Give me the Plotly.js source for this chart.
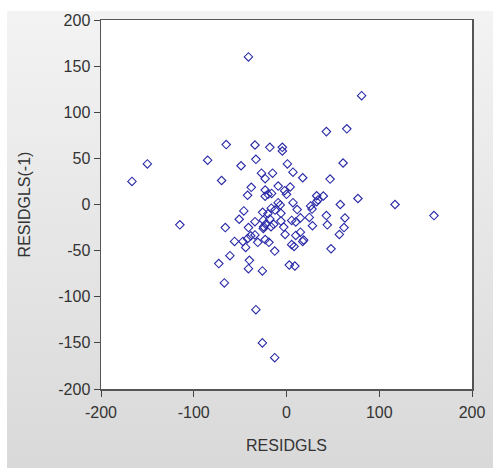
<!DOCTYPE html>
<html>
<head>
<meta charset="utf-8">
<script src="https://cdn.plot.ly/plotly-3.0.1.min.js"></script>
<style>
html,body{margin:0;padding:0;background:#fff;}
#bg{position:absolute;left:7px;top:11px;width:486px;height:457px;background:linear-gradient(#f3f3f3,#d9d9d9);}
#chart{position:absolute;left:0;top:0;width:494px;height:469px;}
</style>
</head>
<body>
<div id="bg"></div>
<div id="chart"></div>
<script>
// RESIDGLS (x) vs RESIDGLS(-1) (y)
const residgls = [
 -41, 81, 43, 65, -65, -34, -18, -4.5, -4.5, -150, -85, -49, -33, 1, 61, -166.6, -70, -27, -15, -23,
 7, 17.5, 47, -38, -9, 4, -23, -20, -16, -23, -42, -2, 0, 32.5, 39.7, 34, 32.5, 77, 117, 159,
 58, 7, 11.5, 26, 27.5, -9, -6.7, -46, -25.7, -16.4, -20, -6, -12.4, -115, -66, -51, -41, -34, -25, -22.4,
 -16.7, -13.8, -24.6, -6, -3, 24.6, 15, 5.6, 10, 43, 44, 63, 62, 57, 28, -1.5, 10, 15, 18.5, 17.5,
 5.6, 8.2, 48, 3, 9, -56, -47, -42, -38.6, -34, -44, -31, -23, -19, -12.7, -61, -73, -40, -41, -26,
 -67, -33, -26, -12.7, -18, -25
];
const residglsLag = [
 160, 118, 79, 82, 65, 64.5, 62, 62, 58, 44, 48, 42, 49, 44, 45, 25, 26, 34, 34, 28,
 35, 29, 27.6, 18.6, 20, 19, 15.7, 11, 12, 9, 10, 15, 11, 9.5, 9.2, 5, 3, 6.5, 0, -12,
 0, 2, -5.5, -1.6, -5, 2, -0.5, -7, -8.5, -4, -10, -9.6, -6, -22, -25, -16, -25, -18.6, -17, -21.5,
 -24, -21.5, -24, -18, -24.5, -14, -14.5, -17.3, -19, -12, -22, -14.6, -25, -32.5, -23, -32.5, -33.5, -30, -38.5, -40,
 -43.5, -45.5, -48, -65.6, -66.7, -40, -40, -37, -34, -33, -46.5, -41, -38, -41, -50.5, -55.5, -64, -60.5, -69.6, -72,
 -85, -114, -150, -166, -15.7, -26
];
const xTicks = [-200, -100, 0, 100, 200];
const yTicks = [-200, -150, -100, -50, 0, 50, 100, 150, 200];

const font = {family: '"Liberation Sans", Arial, sans-serif', size: 16, color: '#333333'};

Plotly.newPlot('chart', [{
  type: 'scatter', mode: 'markers',
  x: residgls, y: residglsLag,
  marker: {symbol: 'diamond-open', size: 6.5, color: '#2a2aa8', line: {width: 1.1, color: '#2a2aa8'}},
  hoverinfo: 'none'
}], {
  width: 494, height: 469,
  margin: {l: 101, r: 22, t: 20, b: 80},
  paper_bgcolor: 'rgba(0,0,0,0)',
  plot_bgcolor: '#ffffff',
  showlegend: false,
  font: font,
  xaxis: {
    range: [-200, 200], tickvals: xTicks, ticktext: xTicks.map(String),
    ticks: 'outside', ticklen: 6, tickcolor: '#444', tickwidth: 1,
    showline: true, linecolor: '#555', linewidth: 1.5, mirror: true,
    showgrid: false, zeroline: false,
    tickfont: font, ticklabelstandoff: 2,
    title: {text: 'RESIDGLS', font: font, standoff: 20}
  },
  yaxis: {
    range: [-200, 200], tickvals: yTicks, ticktext: yTicks.map(String),
    ticks: 'outside', ticklen: 6, tickcolor: '#444', tickwidth: 1,
    showline: true, linecolor: '#555', linewidth: 1.5, mirror: true,
    showgrid: false, zeroline: false,
    tickfont: font,
    title: {text: 'RESIDGLS(-1)', font: font, standoff: 23}
  }
}, {displayModeBar: false, staticPlot: true});
</script>
</body>
</html>
